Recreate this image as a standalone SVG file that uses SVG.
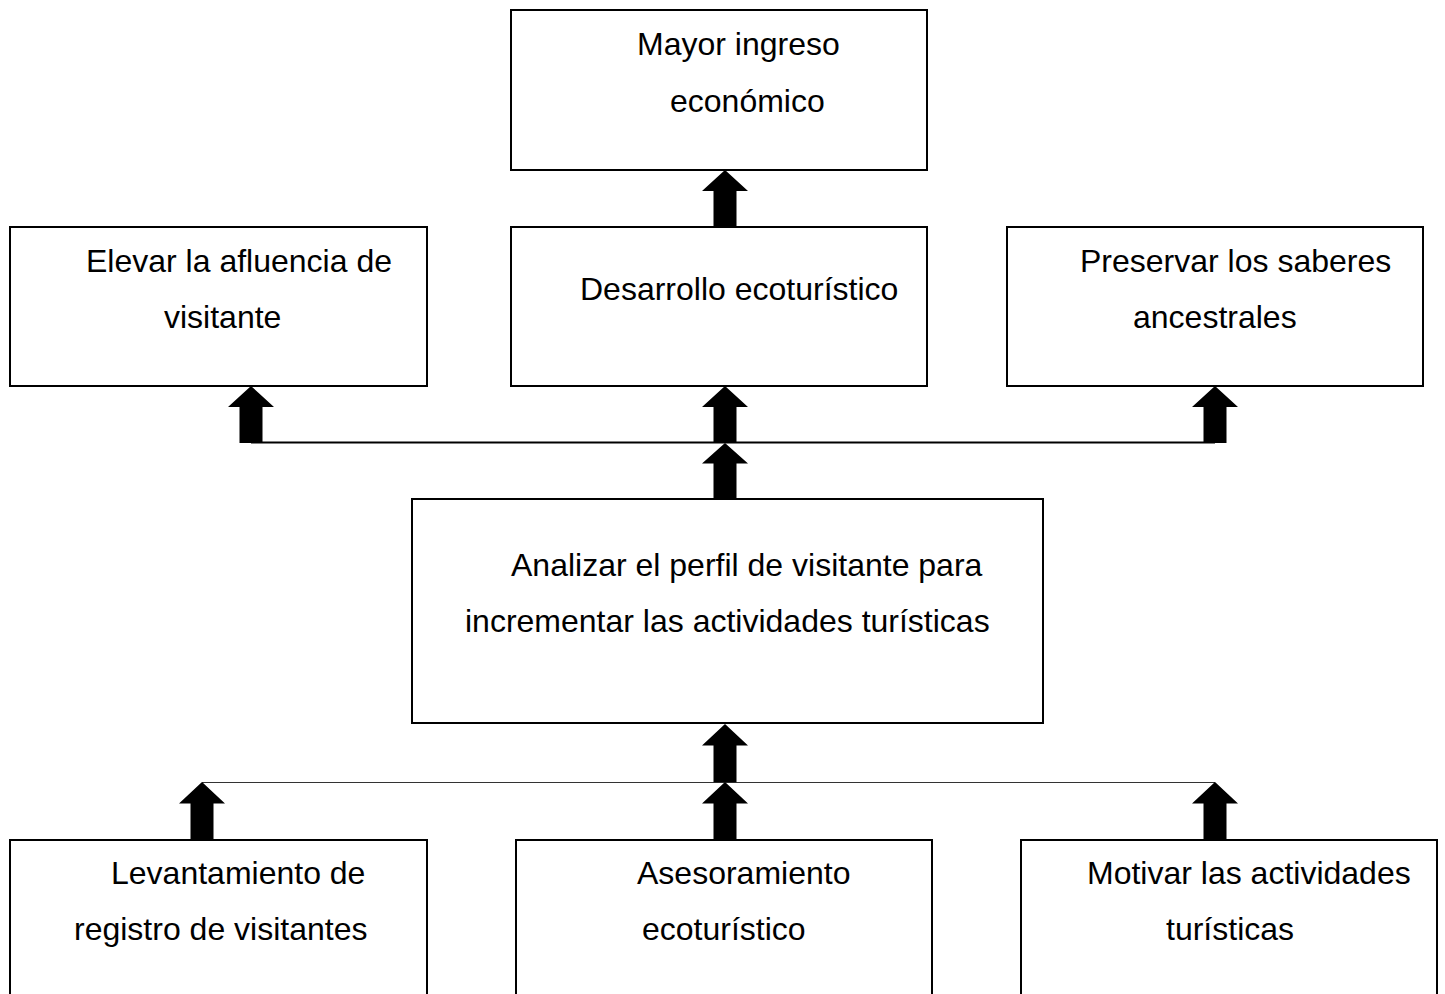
<svg xmlns="http://www.w3.org/2000/svg" width="1445" height="994" viewBox="0 0 1445 994">
<defs>
<style>
.box{fill:#fff;stroke:#000;stroke-width:2}
.t{font-family:"Liberation Sans",Arial,sans-serif;font-size:32px;fill:#000}
.arr{fill:#000}
</style>
<path id="arrow" d="M0,0 L23,21 L11.5,21 L11.5,57 L-11.5,57 L-11.5,21 L-23,21 Z"/>
</defs>
<rect width="1445" height="994" fill="#fff"/>
<g id="connectors">
<line x1="251" y1="442.5" x2="1215" y2="442.5" stroke="#000" stroke-width="2"/>
<line x1="202" y1="782.5" x2="1215" y2="782.5" stroke="#333" stroke-width="1.2"/>
<use href="#arrow" class="arr" transform="translate(725,170)"/>
<use href="#arrow" class="arr" transform="translate(251,386)"/>
<use href="#arrow" class="arr" transform="translate(725,386)"/>
<use href="#arrow" class="arr" transform="translate(1215,386)"/>
<use href="#arrow" class="arr" transform="translate(725,443) scale(1,0.98)"/>
<use href="#arrow" class="arr" transform="translate(725,724) scale(1,1.02)"/>
<use href="#arrow" class="arr" transform="translate(202,782) scale(1,1.02)"/>
<use href="#arrow" class="arr" transform="translate(725,782) scale(1,1.02)"/>
<use href="#arrow" class="arr" transform="translate(1215,782) scale(1,1.02)"/>
</g>
<g id="n-ingreso">
<rect class="box" x="511" y="10" width="416" height="160"/>
<text class="t" x="637" y="55">Mayor ingreso</text>
<text class="t" x="670" y="112">económico</text>
</g>
<g id="n-afluencia">
<rect class="box" x="10" y="227" width="417" height="159"/>
<text class="t" x="86" y="272">Elevar la afluencia de</text>
<text class="t" x="164" y="328">visitante</text>
</g>
<g id="n-desarrollo">
<rect class="box" x="511" y="227" width="416" height="159"/>
<text class="t" x="580" y="300">Desarrollo ecoturístico</text>
</g>
<g id="n-saberes">
<rect class="box" x="1007" y="227" width="416" height="159"/>
<text class="t" x="1080" y="272">Preservar los saberes</text>
<text class="t" x="1133" y="328">ancestrales</text>
</g>
<g id="n-analizar">
<rect class="box" x="412" y="499" width="631" height="224"/>
<text class="t" x="511" y="576">Analizar el perfil de visitante para</text>
<text class="t" x="465" y="632">incrementar las actividades turísticas</text>
</g>
<g id="n-levantamiento">
<rect class="box" x="10" y="840" width="417" height="170"/>
<text class="t" x="111" y="884">Levantamiento de</text>
<text class="t" x="74" y="940">registro de visitantes</text>
</g>
<g id="n-asesoramiento">
<rect class="box" x="516" y="840" width="416" height="170"/>
<text class="t" x="637" y="884">Asesoramiento</text>
<text class="t" x="642" y="940">ecoturístico</text>
</g>
<g id="n-motivar">
<rect class="box" x="1021" y="840" width="416" height="170"/>
<text class="t" x="1087" y="884">Motivar las actividades</text>
<text class="t" x="1166" y="940">turísticas</text>
</g>
</svg>
